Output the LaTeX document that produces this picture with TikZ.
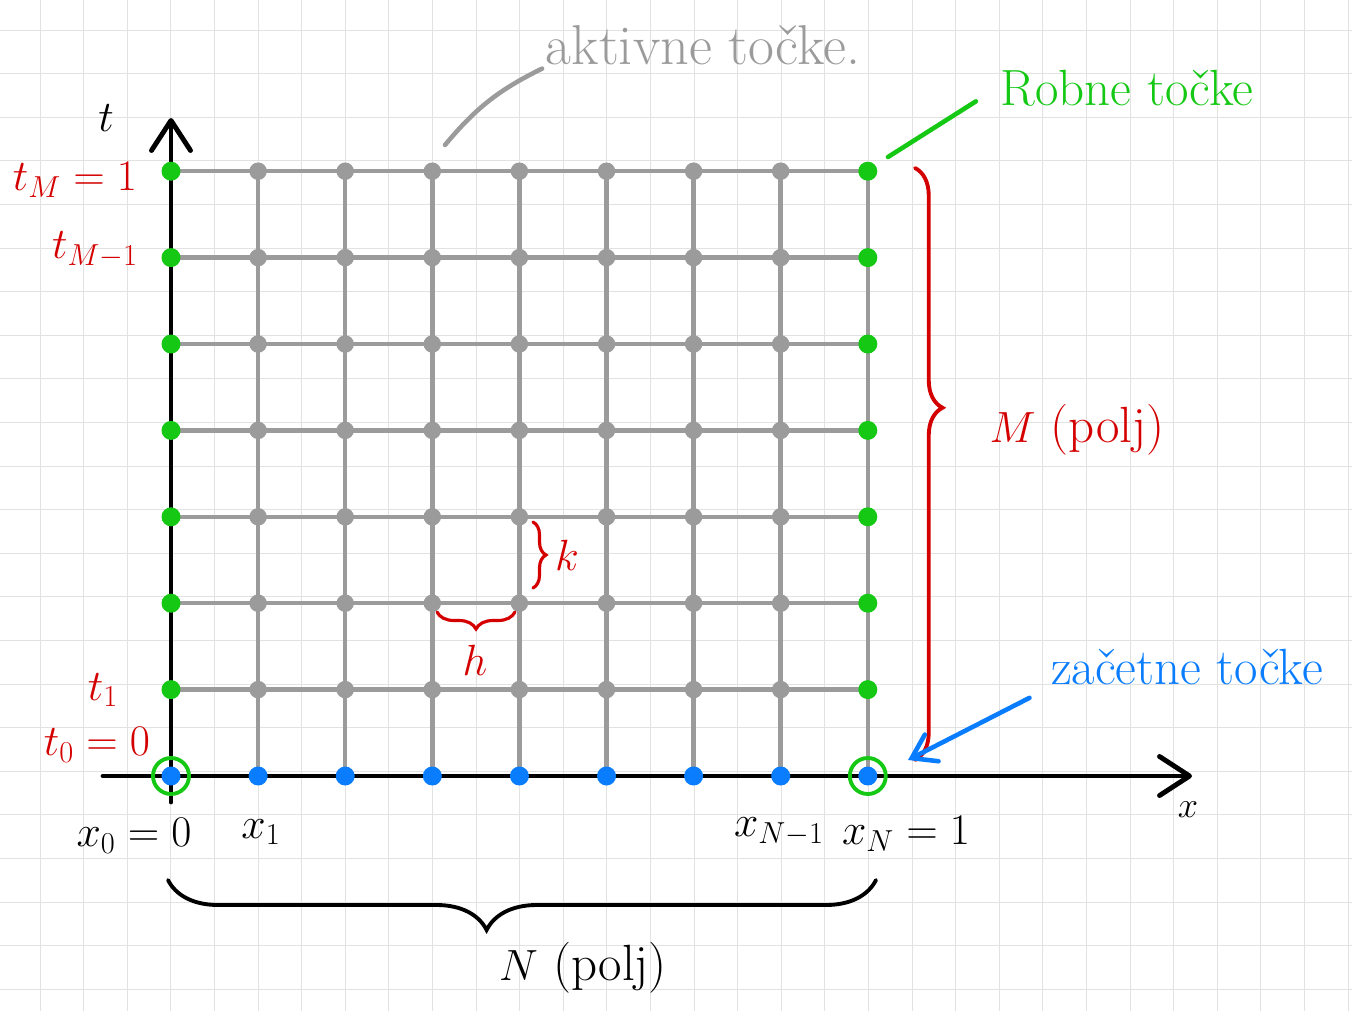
\documentclass[tikz,border=0pt]{standalone}
\usetikzlibrary{arrows.meta,decorations.pathreplacing}
\definecolor{rdeca}{RGB}{212,0,0}
\definecolor{zelena}{RGB}{20,200,20}
\definecolor{modra}{RGB}{10,125,255}
\definecolor{siva}{RGB}{155,155,155}
\definecolor{papir}{RGB}{226,226,226}
\begin{document}
\begin{tikzpicture}[
  x=0.02cm, y=-0.02cm,
  crta/.style={line width=0.5pt, papir},
  mreza/.style={line width=2.6pt, siva},
  os/.style={line width=2.8pt, line cap=round,
             -{Straight Barb[length=0.6cm, width=0.78cm, line join=round, line cap=round]}},
  pika/.style={circle, fill=#1, inner sep=0pt, minimum size=0.38cm},
  obroc/.style={circle, draw=zelena, line width=2.2pt, minimum size=0.72cm, inner sep=0pt},
  oznaka/.style={font=\fontsize{26}{30}\selectfont, inner sep=2pt},
  opis/.style={font=\fontsize{29}{34}\selectfont, inner sep=2pt},
  zavit/.style={decorate, line width=2.2pt, line cap=round}
]
  \useasboundingbox (0,0) rectangle (1352,1011);
  % karirast papir
  \foreach \gx in {40,83.6,...,1352} \draw[crta] (\gx,0) -- (\gx,1011);
  \foreach \gy in {30,73.6,...,1011} \draw[crta] (0,\gy) -- (1352,\gy);

  % tocke mreze
  \foreach \i in {0,...,8}
    \foreach \j in {0,...,7}
      \coordinate (p-\i-\j) at ({171+87.1*\i},{776-86.4*\j});
  \foreach \i in {1,...,8} \draw[mreza] (p-\i-0) -- (p-\i-7);
  \foreach \j in {1,...,7} \draw[mreza] (p-0-\j) -- (p-8-\j);

  % osi
  \coordinate (os-t0) at (171,802);
  \coordinate (os-t1) at (171,118);
  \coordinate (os-x0) at (103,776);
  \coordinate (os-x1) at (1192,776);
  \draw[os] (os-t0) -- (os-t1);
  \draw[os] (os-x0) -- (os-x1);
  \node[oznaka] (os-t) at (106,118) {$t$};
  \node[oznaka, font=\fontsize{20}{24}\selectfont] (os-x) at (1188,810) {$x$};

  \foreach \i in {1,...,7}
    \foreach \j in {1,...,7}
      \node[pika=siva, minimum size=0.35cm] (d-\i-\j) at (p-\i-\j) {};
  \foreach \j in {1,...,7} {
    \node[pika=zelena] (d-0-\j) at (p-0-\j) {};
    \node[pika=zelena] (d-8-\j) at (p-8-\j) {};
  }
  \foreach \i in {0,...,8}
    \node[pika=modra] (d-\i-0) at (p-\i-0) {};
  \node[obroc] (r-0) at (p-0-0) {};
  \node[obroc] (r-8) at (p-8-0) {};

  % oznake casa in prostora
  \node[oznaka, rdeca] (tM)  at (75,180)  {$t_M = 1$};
  \node[oznaka, rdeca] (tM1) at (95,250)  {$t_{M-1}$};
  \node[oznaka, rdeca] (t1)  at (103,690) {$t_1$};
  \node[oznaka, rdeca] (t0)  at (97,745)  {$t_0 = 0$};
  \node[oznaka] (x0)  at (134,836) {$x_0 = 0$};
  \node[oznaka] (x1)  at (261,832) {$x_1$};
  \node[oznaka] (xN1) at (779,832) {$x_{N-1}$};
  \node[oznaka] (xN)  at (906,834) {$x_N = 1$};

  % oklepaji
  \coordinate (bN0) at (168,880);
  \coordinate (bN1) at (876,880);
  \draw[zavit, decoration={brace, amplitude=1cm, aspect=0.55}] (bN1) -- (bN0);
  \node[opis] (N) at (583,968) {$N$ (polj)};

  \coordinate (bM0) at (915,168);
  \coordinate (bM1) at (915,760);
  \draw[zavit, rdeca, decoration={brace, amplitude=0.55cm, aspect=0.405}] (bM0) -- (bM1);
  \node[opis, rdeca] (M) at (1077,430) {$M$ (polj)};

  \coordinate (bk0) at (533,522);
  \coordinate (bk1) at (533,588);
  \draw[zavit, rdeca, line width=1.8pt, decoration={brace, amplitude=0.26cm, aspect=0.5}] (bk0) -- (bk1);
  \node[oznaka, rdeca] (k) at (567,555) {$k$};

  \coordinate (bh0) at (437,612);
  \coordinate (bh1) at (515,612);
  \draw[zavit, rdeca, line width=1.8pt, decoration={brace, amplitude=0.34cm, aspect=0.5}] (bh1) -- (bh0);
  \node[oznaka, rdeca] (h) at (475,660) {$h$};

  % opisi tock
  \node[opis, siva, font=\fontsize{32}{36}\selectfont] (aktivne) at (703,45) {aktivne točke.};
  \coordinate (akt-k) at (445,145);
  \draw[siva, line width=2.6pt, line cap=round] (aktivne.south west) to[bend right=12] (akt-k);

  \node[opis, zelena] (robne) at (1127,88) {Robne točke};
  \coordinate (rob-k) at (888,157);
  \draw[zelena, line width=2.6pt, line cap=round, shorten <=0.5cm] (robne.west) -- (rob-k);

  \node[opis, modra] (zacetne) at (1187,667) {začetne točke};
  \coordinate (zac-k) at (908,760);
  \draw[modra, line width=2.6pt, line cap=round, shorten <=0.4cm,
        -{Straight Barb[length=0.45cm, width=0.6cm, line cap=round]}] (zacetne.south west) -- (zac-k);
\end{tikzpicture}
\end{document}
